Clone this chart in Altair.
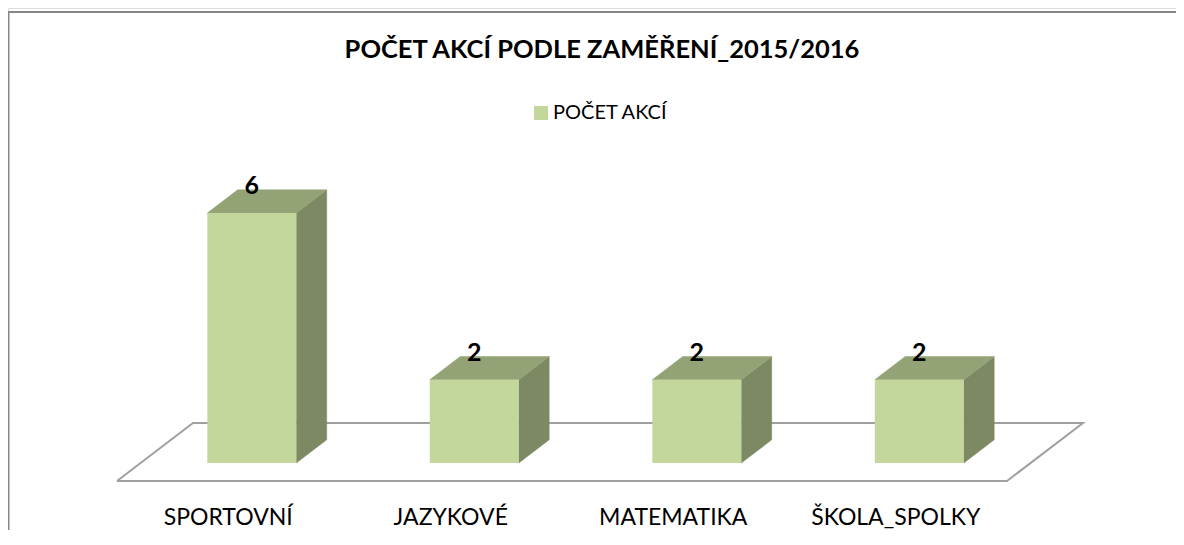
import altair as alt
import pandas as pd

# ---- data ----
categories = ["SPORTOVNÍ", "JAZYKOVÉ", "MATEMATIKA", "ŠKOLA_SPOLKY"]
values = [6, 2, 2, 2]
series_name = "POČET AKCÍ"
title_text = "POČET AKCÍ PODLE ZAMĚŘENÍ_2015/2016"

# ---- colours ----
FRONT = "#C3D69B"
TOP = "#94A376"
SIDE = "#7D8962"
FLOOR = "#A0A0A0"
BORDER = "#878787"
FONT = "Lato"

# ---- oblique projection (slot units on x, value units on y) ----
SLOT_PX = 222.5
VAL_PX = 250 / 6
KX = 76 / SLOT_PX        # x shift per unit of depth
KY = 58 / VAL_PX         # y shift per unit of depth
BAR_L, BAR_R = 0.3, 0.7  # bar extent inside its slot
Z_F, Z_B = 0.31, 0.71    # bar extent in depth

W, H = 1168, 522
X0_PX, Y0_PX = 109, 473  # where slot 0 / value 0 at the floor front sit in the view
x_dom = [-X0_PX / SLOT_PX, (W - X0_PX) / SLOT_PX]
y_dom = [(Y0_PX - H) / VAL_PX, Y0_PX / VAL_PX]


def px(slot, z):
    return slot + KX * z


def py(v, z):
    return v + KY * z


front_rows, side_rows, top_rows, lab_rows, cat_rows = [], [], [], [], []
for i, (c, v) in enumerate(zip(categories, values)):
    xl, xr = i + BAR_L, i + BAR_R
    front_rows.append(dict(cat=c, series=series_name,
                           x=px(xl, Z_F), x2=px(xr, Z_F),
                           y=py(0, Z_F), y2=py(v, Z_F)))
    # right side face
    side_rows.append(dict(cat=c, X=px(xr, Z_F), lo=py(0, Z_F), hi=py(v, Z_F)))
    side_rows.append(dict(cat=c, X=px(xr, Z_B), lo=py(0, Z_B), hi=py(v, Z_B)))
    # top face
    top_rows.append(dict(cat=c, X=px(xl, Z_F), lo=py(v, Z_F), hi=py(v, Z_F)))
    top_rows.append(dict(cat=c, X=px(xl, Z_B), lo=py(v, Z_F), hi=py(v, Z_B)))
    top_rows.append(dict(cat=c, X=px(xr, Z_F), lo=py(v, Z_F), hi=py(v, Z_B)))
    top_rows.append(dict(cat=c, X=px(xr, Z_B), lo=py(v, Z_B), hi=py(v, Z_B)))
    lab_rows.append(dict(cat=c, X=px(i + 0.5, Z_F), Y=py(v, 0.64), val=str(v)))
    cat_rows.append(dict(cat=c, X=px(i + 0.5, 0)))

n = len(categories)
floor_rows = [dict(o=k, X=px(s, z), Y=py(0, z))
              for k, (s, z) in enumerate([(0, 0), (n, 0), (n, 1), (0, 1), (0, 0)])]

xs = alt.Scale(domain=x_dom, nice=False, zero=False)
ys = alt.Scale(domain=y_dom, nice=False, zero=False)

one = pd.DataFrame({"a": [0]})
border_left = alt.Chart(one).mark_rule(color=BORDER, strokeWidth=2).encode(
    x=alt.value(0.5), y=alt.value(3), y2=alt.value(H)
)
border_top = alt.Chart(one).mark_rule(color=BORDER, strokeWidth=2).encode(
    x=alt.value(0), x2=alt.value(W), y=alt.value(4)
)

floor = alt.Chart(pd.DataFrame(floor_rows)).mark_line(
    color=FLOOR, strokeWidth=2
).encode(
    x=alt.X("X:Q", scale=xs, axis=None),
    y=alt.Y("Y:Q", scale=ys, axis=None),
    order="o:Q",
)

side = alt.Chart(pd.DataFrame(side_rows)).mark_area(
    color=SIDE, stroke=SIDE, strokeWidth=0.5
).encode(
    x=alt.X("X:Q", scale=xs, axis=None),
    y=alt.Y("lo:Q", scale=ys, axis=None),
    y2="hi:Q",
    detail="cat:N",
)

top = alt.Chart(pd.DataFrame(top_rows)).mark_area(
    color=TOP, stroke=TOP, strokeWidth=0.5
).encode(
    x=alt.X("X:Q", scale=xs, axis=None),
    y=alt.Y("lo:Q", scale=ys, axis=None),
    y2="hi:Q",
    detail="cat:N",
)

front = alt.Chart(pd.DataFrame(front_rows)).mark_rect().encode(
    x=alt.X("x:Q", scale=xs, axis=None),
    x2="x2:Q",
    y=alt.Y("y:Q", scale=ys, axis=None),
    y2="y2:Q",
    fill=alt.Fill(
        "series:N",
        scale=alt.Scale(domain=[series_name], range=[FRONT]),
        legend=alt.Legend(
            title=None, orient="none", legendX=523, legendY=95,
            symbolType="square", symbolSize=196, symbolStrokeWidth=0,
            labelFont=FONT, labelFontSize=20, labelColor="black",
            labelOffset=2, padding=0,
        ),
    ),
)

vlabels = alt.Chart(pd.DataFrame(lab_rows)).mark_text(
    font=FONT, fontSize=25, fontWeight="bold", color="black",
    align="center", baseline="alphabetic"
).encode(
    x=alt.X("X:Q", scale=xs, axis=None),
    y=alt.Y("Y:Q", scale=ys, axis=None),
    text="val:N",
)

clabels = alt.Chart(pd.DataFrame(cat_rows)).mark_text(
    font=FONT, fontSize=23, color="black", align="center", baseline="alphabetic"
).encode(
    x=alt.X("X:Q", scale=xs, axis=None),
    y=alt.value(517),
    text="cat:N",
)

chart = alt.layer(border_left, border_top, floor, side, top, front, vlabels, clabels).properties(
    width=W, height=H,
    autosize=alt.AutoSizeParams(type="none"),
    padding=0,
    title=alt.Title(
        title_text, font=FONT, fontSize=25.5, fontWeight="bold", color="black",
        anchor="middle", frame="group", offset=0, dx=10, dy=75,
        baseline="alphabetic",
    ),
).configure_view(stroke=None).configure(background="white")

chart.save("out.html", embed_options={"renderer": "svg", "actions": False})
